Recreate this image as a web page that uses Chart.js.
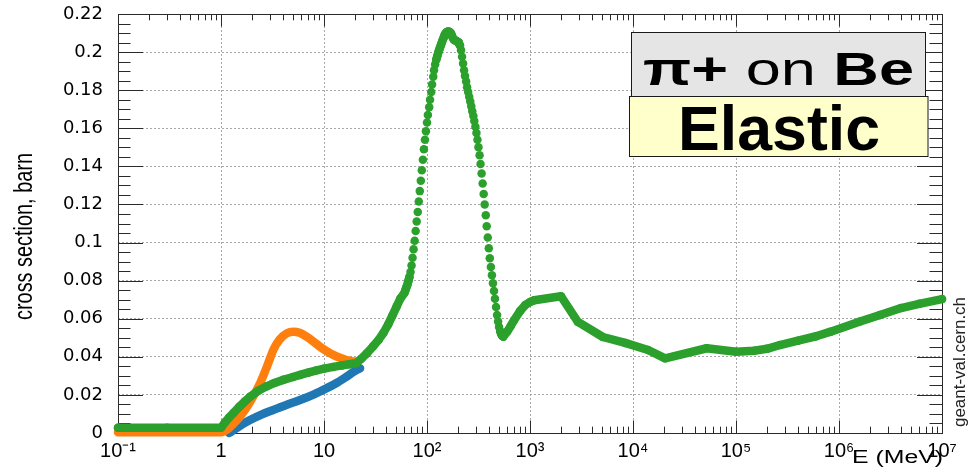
<!DOCTYPE html>
<html>
<head>
<meta charset="utf-8">
<script src="https://cdn.jsdelivr.net/npm/chart.js@4.4.1/dist/chart.umd.min.js"></script>
<style>
  html, body { margin: 0; padding: 0; background: #ffffff; }
  #wrap { width: 971px; height: 473px; position: relative; }
</style>
</head>
<body>
<div id="wrap"><canvas id="c" width="971" height="473"></canvas></div>
<script>
// Elastic cross section of pi+ on Be versus kinetic energy (MeV), in barn.

// Green curve
const energyGreen = [
  0.1, 0.3, 1.0, 1.1, 1.2, 1.32, 1.5, 1.7, 1.91, 2.3, 2.78, 3.3, 4.03, 5.0, 5.85, 7.0, 8.5, 10, 12.3, 15, 17.5, 20.7,
  23, 26, 30, 34, 37.7, 42, 46, 50.8, 55,
  60.3, 61.7, 63.1, 64.6, 66.1, 67.6, 69.2, 70.8, 72.4, 74.1,
  75.9, 77.6, 79.4, 81.3, 83.2, 85.1, 87.1, 89.1, 91.2, 93.3,
  95.5, 97.7, 100, 102, 105, 107, 110, 112, 115, 117,
  120, 123, 126, 129, 132, 135, 138, 141, 145, 148,
  151, 155, 158, 162, 166, 170, 174, 178, 182, 186,
  191, 195, 200, 204, 209, 214, 219, 224, 229, 234,
  240, 245, 251, 257, 263, 269, 275, 282, 288, 295,
  302, 309, 316, 324, 331, 339, 347, 355, 363, 372,
  380, 389, 398, 407, 417, 427, 437, 447, 457, 468,
  479, 490, 501, 513, 525, 537, 550,
  600, 650, 700, 800, 900, 1000, 1100, 2000, 2920, 5100, 8400, 14000, 20500, 52000,
  1e5, 1.5e5, 2e5, 2.67e5, 4e5, 6e5, 8.3e5, 1.6e6, 2.5e6, 4e6, 6e6, 1e7
];
const xsGreen = [
  0.0028, 0.0028, 0.0028, 0.0058, 0.0082, 0.0105, 0.0137, 0.0165, 0.019, 0.0222, 0.0245, 0.0263, 0.0279, 0.0294, 0.0305, 0.0317, 0.0329, 0.0338, 0.0347, 0.0355, 0.0361, 0.0367,
  0.039, 0.0418, 0.0455, 0.049, 0.0525, 0.057, 0.0615, 0.0665, 0.0705,
  0.0735, 0.075, 0.0765, 0.078, 0.080, 0.082, 0.0845, 0.088, 0.092, 0.0965,
  0.101, 0.106, 0.111, 0.116, 0.1215, 0.127, 0.1325, 0.138, 0.1435, 0.149,
  0.154, 0.1585, 0.163, 0.167, 0.171, 0.175, 0.179, 0.183, 0.187, 0.1905,
  0.1935, 0.196, 0.198, 0.200, 0.2015, 0.203, 0.2045, 0.206, 0.2075, 0.2088,
  0.2098, 0.2104, 0.2107, 0.2108, 0.2106, 0.2100, 0.2088, 0.2075, 0.2066, 0.2062,
  0.2060, 0.2057, 0.2052, 0.2045, 0.2035, 0.2010, 0.1975, 0.1940, 0.1905, 0.1875,
  0.1845, 0.1815, 0.1790, 0.1765, 0.1740, 0.1715, 0.1690, 0.1665, 0.1638, 0.1608,
  0.1575, 0.1540, 0.1500, 0.1458, 0.1412, 0.1362, 0.1310, 0.1255, 0.1200, 0.1143,
  0.1085, 0.1027, 0.0970, 0.0918, 0.0872, 0.0828, 0.0786, 0.0745, 0.0705, 0.0662,
  0.0620, 0.0585, 0.0557, 0.0535, 0.0520, 0.0510, 0.0506,
  0.0532, 0.0562, 0.0592, 0.0640, 0.0672, 0.0688, 0.0697, 0.0718, 0.0583, 0.0504, 0.0473, 0.0436, 0.0392, 0.0445,
  0.0427, 0.0432, 0.0442, 0.0462, 0.0485, 0.0508, 0.0532, 0.0585, 0.0620, 0.0656, 0.0678, 0.0703
];

// Orange curve
const energyOrange = [0.1, 0.5, 1.0, 1.15, 1.3, 1.53, 1.9, 2.39, 2.8, 3.22, 3.7, 4.34, 5.04, 5.8, 6.78, 7.9, 9.14, 10.6, 12.3, 14.3, 16.6, 18.5, 20.7];
const xsOrange = [0.0004, 0.0004, 0.0004, 0.0018, 0.0045, 0.0086, 0.016, 0.026, 0.035, 0.0436, 0.049, 0.0523, 0.0532, 0.0526, 0.0506, 0.048, 0.0453, 0.043, 0.041, 0.0395, 0.0383, 0.0377, 0.0374];

// Blue curve
const energyBlue = [1.2, 1.35, 1.5, 1.91, 2.5, 3.22, 4.3, 5.85, 8, 10.6, 13.5, 16.6, 19.5, 22.4];
const xsBlue = [0.0, 0.0018, 0.0035, 0.0068, 0.0098, 0.0121, 0.0147, 0.0173, 0.0203, 0.0235, 0.0265, 0.0296, 0.0322, 0.034];

// Axis ticks
const xTickValues = [0.1, 1, 10, 100, 1e3, 1e4, 1e5, 1e6, 1e7];
const xTickLabels = ['10\u207B\u00B9', '1', '10', '10\u00B2', '10\u00B3', '10\u2074', '10\u2075', '10\u2076', '10\u2077'];
const yTickValues = [0, 0.02, 0.04, 0.06, 0.08, 0.1, 0.12, 0.14, 0.16, 0.18, 0.2, 0.22];
const yTickLabels = ['0', '0.02', '0.04', '0.06', '0.08', '0.1', '0.12', '0.14', '0.16', '0.18', '0.2', '0.22'];

// Texts
const xTitle = 'E (MeV)';
const yTitle = 'cross section, barn';
const siteMark = 'geant-val.cern.ch';
const boxLine1 = [['\u03C0+', 'bold'], [' on ', 'normal'], ['Be', 'bold']];
const boxLine2 = 'Elastic';

const GREEN = '#2ca02c', ORANGE = '#ff7f0e', BLUE = '#1f77b4';
const FONT = "'Liberation Sans', Arial, sans-serif";
const LINE_W = 8.5;

// wanted plot frame inside the 971x473 canvas
const FRAME = { left: 118, top: 14, right: 942, bottom: 433 };
let xAxisHeight = 40;

const toPoints = (ex, ys) => ex.map((e, i) => ({ x: e, y: ys[i] }));

// Frame with inward ticks on all four sides, minor ticks included
const frameTicks = {
  id: 'frameTicks',
  beforeDatasetsDraw(chart) {
    const { ctx, chartArea: a, scales: { x, y } } = chart;
    ctx.save();
    ctx.strokeStyle = '#2a2a2a';
    ctx.lineWidth = 1;
    ctx.beginPath();
    for (let d = -1; d <= 7; d++) {
      for (let m = 1; m <= 9; m++) {
        const v = m * Math.pow(10, d);
        if (v > 1.0001e7) break;
        const px = Math.round(x.getPixelForValue(v)) + 0.5;
        const len = m === 1 ? 12.5 : 6.3;
        ctx.moveTo(px, a.bottom); ctx.lineTo(px, a.bottom - len);
        ctx.moveTo(px, a.top); ctx.lineTo(px, a.top + len);
      }
    }
    for (let i = 0; i <= 44; i++) {
      const py = Math.round(y.getPixelForValue(i * 0.005)) + 0.5;
      const len = i % 4 === 0 ? 25 : 12.5;
      ctx.moveTo(a.left, py); ctx.lineTo(a.left + len, py);
      ctx.moveTo(a.right, py); ctx.lineTo(a.right - len, py);
    }
    ctx.stroke();
    ctx.strokeRect(Math.round(a.left) + 0.5, Math.round(a.top) + 0.5,
                   Math.round(a.right - a.left), Math.round(a.bottom - a.top));
    ctx.restore();
  },
  afterDraw(chart) {
    const { ctx } = chart;
    ctx.save();
    ctx.fillStyle = '#000';
    ctx.textBaseline = 'alphabetic';

    // y axis title, rotated and condensed
    ctx.save();
    ctx.font = `25px ${FONT}`;
    let w = ctx.measureText(yTitle).width;
    ctx.translate(32, 236.5);
    ctx.rotate(-Math.PI / 2);
    ctx.scale(167 / w, 1);
    ctx.textAlign = 'center';
    ctx.fillText(yTitle, 0, 0);
    ctx.restore();

    // x axis title
    ctx.save();
    ctx.font = `18px ${FONT}`;
    w = ctx.measureText(xTitle).width;
    ctx.translate(852, 463);
    ctx.scale(91 / w, 1);
    ctx.textAlign = 'left';
    ctx.fillText(xTitle, 0, 0);
    ctx.restore();

    // site mark on the right edge
    ctx.save();
    ctx.font = `17px ${FONT}`;
    ctx.fillStyle = '#222';
    w = ctx.measureText(siteMark).width;
    ctx.translate(965, 427);
    ctx.rotate(-Math.PI / 2);
    ctx.scale(130 / w, 1);
    ctx.textAlign = 'left';
    ctx.fillText(siteMark, 0, 0);
    ctx.restore();

    // boxes
    ctx.lineWidth = 1;
    ctx.strokeStyle = '#1a1a1a';
    ctx.fillStyle = '#e5e5e5';
    ctx.fillRect(631.5, 32.5, 294, 64);
    ctx.strokeRect(631.5, 32.5, 294, 64);
    ctx.fillStyle = '#ffffcc';
    ctx.fillRect(629.5, 96.5, 298.5, 60);
    ctx.strokeRect(629.5, 96.5, 298.5, 60);

    // first box text
    ctx.save();
    ctx.fillStyle = '#000';
    let total = 0;
    boxLine1.forEach(([t, wt]) => { ctx.font = `${wt} 46px ${FONT}`; total += ctx.measureText(t).width; });
    const target1 = 271;
    ctx.translate(778.5 - target1 / 2, 85);
    ctx.scale(target1 / total, 1);
    let cx = 0;
    ctx.textAlign = 'left';
    boxLine1.forEach(([t, wt]) => {
      ctx.font = `${wt} 46px ${FONT}`;
      ctx.fillText(t, cx, 0);
      cx += ctx.measureText(t).width;
    });
    ctx.restore();

    // second box text
    ctx.save();
    ctx.fillStyle = '#000';
    ctx.font = `bold 63px ${FONT}`;
    w = ctx.measureText(boxLine2).width;
    ctx.translate(779, 150);
    ctx.scale(202 / w, 1);
    ctx.textAlign = 'center';
    ctx.fillText(boxLine2, 0, 0);
    ctx.restore();

    ctx.restore();
  }
};

const lineStyle = {
  borderWidth: LINE_W,
  borderCapStyle: 'round',
  borderJoinStyle: 'round',
  clip: 7
};

const chart = new Chart(document.getElementById('c'), {
  type: 'line',
  data: {
    datasets: [
      Object.assign({
        label: 'green',
        data: toPoints(energyGreen, xsGreen),
        borderColor: GREEN,
        backgroundColor: GREEN,
        pointRadius: LINE_W / 2,
        pointBorderWidth: 0,
        pointBackgroundColor: GREEN,
        pointHoverRadius: LINE_W / 2,
        tension: 0,
        // where the points are packed tightly on a steep slope, only the markers are drawn
        segment: {
          borderColor: s => (Math.abs(s.p1.x - s.p0.x) < 2 && Math.abs(s.p1.y - s.p0.y) > 4) ? 'rgba(0,0,0,0)' : GREEN
        }
      }, lineStyle),
      Object.assign({
        label: 'orange',
        data: toPoints(energyOrange, xsOrange),
        borderColor: ORANGE,
        pointRadius: 0,
        cubicInterpolationMode: 'monotone'
      }, lineStyle),
      Object.assign({
        label: 'blue',
        data: toPoints(energyBlue, xsBlue),
        borderColor: BLUE,
        pointRadius: 0,
        cubicInterpolationMode: 'monotone'
      }, lineStyle)
    ]
  },
  options: {
    responsive: false,
    animation: false,
    devicePixelRatio: 1,
    layout: { autoPadding: false, padding: { left: 0, top: FRAME.top, right: 971 - FRAME.right, bottom: 0 } },
    plugins: { legend: { display: false }, tooltip: { enabled: false }, title: { display: false } },
    scales: {
      x: {
        type: 'logarithmic',
        min: 0.1,
        max: 1e7,
        afterBuildTicks: s => { s.ticks = xTickValues.map(v => ({ value: v })); },
        afterFit: s => { s.height = xAxisHeight; s.paddingLeft = 0; s.paddingRight = 0; },
        ticks: {
          autoSkip: false,
          maxRotation: 0,
          padding: 6,
          color: '#000',
          font: { family: FONT, size: 20 },
          callback: (v, i) => xTickLabels[i]
        },
        grid: { color: '#a8a8a8', lineWidth: 1, drawTicks: false },
        border: { display: false, dash: [2, 2] }
      },
      y: {
        type: 'linear',
        min: 0,
        max: 0.22,
        afterBuildTicks: s => { s.ticks = yTickValues.map(v => ({ value: v })); },
        afterFit: s => { s.width = FRAME.left; s.paddingTop = 0; s.paddingBottom = 0; },
        ticks: {
          autoSkip: false,
          padding: 15,
          color: '#000',
          font: { family: "'DejaVu Sans', sans-serif", size: 18 },
          callback: (v, i) => yTickLabels[i]
        },
        grid: { color: '#a8a8a8', lineWidth: 1, drawTicks: false },
        border: { display: false, dash: [2, 2] }
      }
    }
  },
  plugins: [frameTicks]
});

// settle the frame on its intended position
for (let k = 0; k < 3; k++) {
  const a = chart.chartArea;
  if (!a) break;
  const pad = Object.assign({}, chart.options.layout.padding);
  const dTop = FRAME.top - a.top, dRight = a.right - FRAME.right, dBottom = a.bottom - FRAME.bottom;
  if (Math.abs(dTop) < 0.5 && Math.abs(dRight) < 0.5 && Math.abs(dBottom) < 0.5) break;
  pad.top += dTop;
  pad.right += dRight;
  xAxisHeight += dBottom;
  chart.options.layout.padding = pad;
  chart.update();
}
</script>
</body>
</html>
